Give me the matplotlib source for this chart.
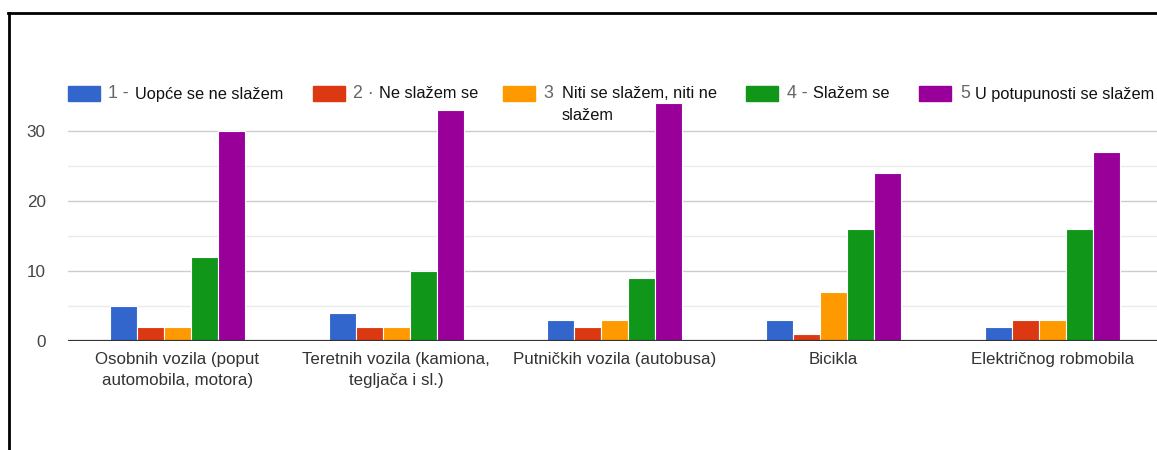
import numpy as np
import matplotlib.pyplot as plt
from matplotlib.lines import Line2D
from matplotlib.patches import Rectangle

plt.rcParams['font.family'] = ['Liberation Sans', 'DejaVu Sans']

# Data
categories = ["Osobnih vozila (poput\nautomobila, motora)",
              "Teretnih vozila (kamiona,\ntegljača i sl.)",
              "Putničkih vozila (autobusa)",
              "Bicikla",
              "Električnog robmobila"]
s1 = [5, 4, 3, 3, 2]
s2 = [2, 2, 2, 1, 3]
s3 = [2, 2, 3, 7, 3]
s4 = [12, 10, 9, 16, 16]
s5 = [30, 33, 34, 24, 27]
series = [s1, s2, s3, s4, s5]

legend_num = ["1 -", "2 ·", "3", "4 -", "5"]
legend_txt = ["Uopće se ne slažem", "Ne slažem se", "Niti se slažem, niti ne\nslažem",
              "Slažem se", "U potupunosti se slažem"]
colors = ["#3366CC", "#DC3912", "#FF9900", "#109618", "#990099"]

W, H = 1157, 450
fig = plt.figure(figsize=(W / 100, H / 100), dpi=100)

# Axes placed in pixel coords
left, right, bottom, top = 68, 1161.75, H - 341, H - 96
ax = fig.add_axes([left / W, bottom / H, (right - left) / W, (top - bottom) / H])

x = np.arange(len(categories))
step = 0.1234
for i, vals in enumerate(series):
    ax.bar(x + (i - 2) * step, vals, width=step, color=colors[i],
           edgecolor="white", linewidth=0.8, zorder=3)

ax.set_xlim(-0.5, 4.5)
ax.set_ylim(0, 35)

# Grid
for v in [10, 20, 30]:
    ax.axhline(v, color="#cccccc", lw=1, zorder=1)
for v in [5, 15, 25]:
    ax.axhline(v, color="#ebebeb", lw=1, zorder=1)
ax.axhline(0, color="#333333", lw=1.6, zorder=4)

for s in ax.spines.values():
    s.set_visible(False)
ax.set_yticks([0, 10, 20, 30])
ax.set_yticklabels(["0", "10", "20", "30"], color="#444444", fontsize=12.3)
ax.tick_params(axis="y", length=0, pad=16)
ax.set_xticks(x)
ax.set_xticklabels(categories, color="#333333", fontsize=12.2, linespacing=1.45)
ax.tick_params(axis="x", length=0, pad=8)

# Legend (drawn by hand to match layout)
box_x = [68, 313, 503, 746, 919]
num_x = [108, 353, 543, 787, 960]
txt_x = [135, 379, 562, 813, 975]
for i in range(5):
    fig.add_artist(Rectangle((box_x[i] / W, (H - 101) / H), 32 / W, 15 / H,
                             transform=fig.transFigure, color=colors[i]))
    fig.text(num_x[i] / W, (H - 94) / H, legend_num[i], color="#666666",
             fontsize=12.8, va="center")
    if i == 2:
        fig.text(txt_x[i] / W, (H - 86) / H, legend_txt[i], color="#111111",
                 fontsize=11.8, va="top", linespacing=1.6)
    else:
        fig.text(txt_x[i] / W, (H - 94) / H, legend_txt[i], color="#111111",
                 fontsize=11.8, va="center")

# Border
fig.add_artist(Line2D([8 / W, 1], [1 - 13 / H, 1 - 13 / H], color="black", lw=2))
fig.add_artist(Line2D([9 / W, 9 / W], [0, 1 - 13 / H], color="black", lw=2))

plt.savefig("out.png", dpi=100)
